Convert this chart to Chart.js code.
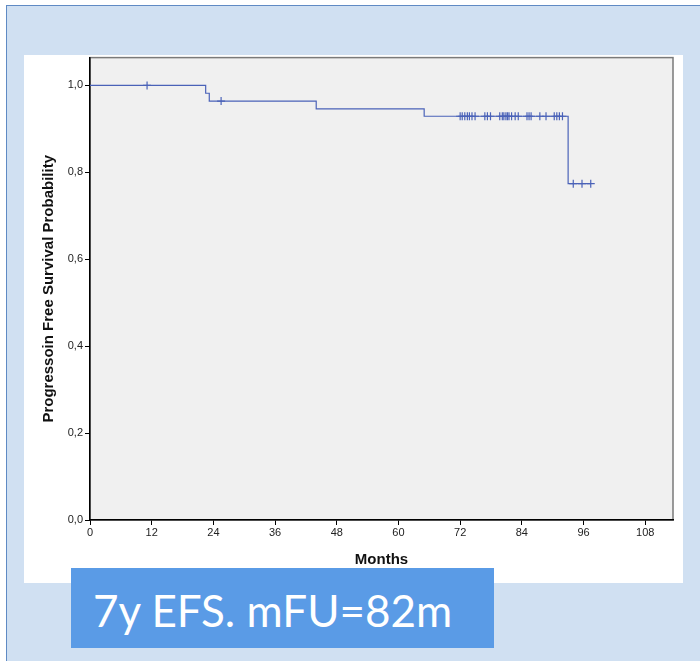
<!DOCTYPE html>
<html>
<head>
<meta charset="utf-8">
<script src="https://cdn.jsdelivr.net/npm/chart.js@4"></script>
<style>
  html, body { margin: 0; padding: 0; background: #ffffff; width: 700px; height: 661px; overflow: hidden; }
  .slide { position: absolute; left: 6px; top: 5px; width: 720px; height: 700px;
           background: #d0e0f2; border-left: 1px solid #5f8ac4; border-top: 1px solid #5f8ac4; }
  .panel { position: absolute; left: 24px; top: 55px; width: 659px; height: 528px; background: #ffffff; }
  #km { position: absolute; left: 24px; top: 49px; }
  .note { position: absolute; left: 71px; top: 568px; width: 423px; height: 80px; background: #5a9be6;
          color: #ffffff; font-family: Lato, "Open Sans", sans-serif; font-size: 44px;
          display: flex; align-items: center; padding-left: 22px; box-sizing: border-box; padding-top: 4px; }
</style>
</head>
<body>
<div class="slide"></div>
<div class="panel"></div>
<canvas id="km" width="659" height="534"></canvas>
<div class="note">7y EFS. mFU=82m</div>
<script>
// Kaplan-Meier steps (month, survival after the event)
const stepMonths = [0, 22.5, 23.2, 44.0, 65.0, 93.0, 97.4];
const stepSurvival = [1.0, 0.982, 0.964, 0.946, 0.929, 0.774, 0.774];

// censored observations
const censorMonths = [11.1, 25.5,
  72.0, 72.4, 72.9, 73.4, 73.8, 74.3, 74.9, 76.8, 77.3, 77.9, 79.7, 80.2, 80.5, 80.9,
  81.2, 81.5, 82.0, 82.7, 83.3, 85.0, 85.4, 85.8, 87.5, 88.7, 90.3, 90.8, 91.3, 91.9,
  94.0, 95.7, 97.4];
const censorSurvival = [1.0, 0.964,
  0.929, 0.929, 0.929, 0.929, 0.929, 0.929, 0.929, 0.929, 0.929, 0.929, 0.929, 0.929, 0.929, 0.929,
  0.929, 0.929, 0.929, 0.929, 0.929, 0.929, 0.929, 0.929, 0.929, 0.929, 0.929, 0.929, 0.929, 0.929,
  0.774, 0.774, 0.774];

const xTicks = [0, 12, 24, 36, 48, 60, 72, 84, 96, 108];
const yTicks = [0.0, 0.2, 0.4, 0.6, 0.8, 1.0];

const lineColor = '#4a62b8';

const plotFrame = {
  id: 'plotFrame',
  beforeDraw(chart) {
    const {ctx, chartArea: a} = chart;
    ctx.save();
    ctx.fillStyle = '#f0f0f0';
    ctx.fillRect(a.left, a.top, a.right - a.left, a.bottom - a.top);
    ctx.strokeStyle = '#7a7a7a';
    ctx.lineWidth = 1.5;
    ctx.strokeRect(a.left, a.top, a.right - a.left, a.bottom - a.top);
    ctx.restore();
  }
};

new Chart(document.getElementById('km'), {
  type: 'scatter',
  data: {
    datasets: [{
      data: stepMonths.map((m, i) => ({x: m, y: stepSurvival[i]})),
      showLine: true,
      stepped: 'before',
      borderColor: lineColor,
      borderWidth: 1.2,
      pointRadius: 0
    }, {
      data: censorMonths.map((m, i) => ({x: m, y: censorSurvival[i]})),
      showLine: false,
      pointStyle: 'cross',
      pointRadius: 4,
      borderColor: lineColor,
      borderWidth: 1.2
    }]
  },
  options: {
    responsive: false,
    animation: false,
    layout: { padding: { left: 0, top: 8, right: 10, bottom: 0 } },
    plugins: { legend: { display: false }, tooltip: { enabled: false } },
    scales: {
      x: {
        type: 'linear',
        min: 0,
        max: 113.4,
        afterBuildTicks: s => { s.ticks = xTicks.map(v => ({value: v})); },
        afterFit: s => { s.height = 63; },
        ticks: { color: '#222', padding: 1, font: { family: 'Liberation Sans', size: 11 }, maxRotation: 0,
                 callback: v => String(v) },
        grid: { drawOnChartArea: false, drawTicks: true, tickLength: 5, tickColor: '#000' },
        border: { color: '#000', width: 1.5 },
        title: { display: true, text: 'Months', color: '#111',
                 font: { family: 'Liberation Sans', size: 15, weight: 'bold' },
                 padding: { top: 0, bottom: 14 } }
      },
      y: {
        min: 0,
        max: 1.064,
        afterBuildTicks: s => { s.ticks = yTicks.map(v => ({value: v})); },
        afterFit: s => { s.width = 66; },
        ticks: { color: '#222', padding: 2, font: { family: 'Liberation Sans', size: 11 },
                 callback: v => v.toFixed(1).replace('.', ',') },
        grid: { drawOnChartArea: false, drawTicks: true, tickLength: 5, tickColor: '#000' },
        border: { color: '#000', width: 1.5 },
        title: { display: true, text: 'Progressoin Free Survival Probability', color: '#111',
                 font: { family: 'Liberation Sans', size: 15, weight: 'bold' },
                 padding: { top: 16, bottom: 0 } }
      }
    }
  },
  plugins: [plotFrame]
});
</script>
</body>
</html>
